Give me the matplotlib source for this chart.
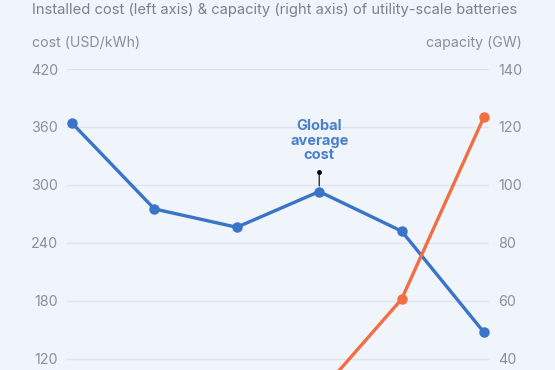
import matplotlib.pyplot as plt
from matplotlib.transforms import offset_copy

plt.rcParams['font.family'] = ['Inter', 'DejaVu Sans']

# data (x labels are cropped out of the reference, so plain index positions)
periods = [0, 1, 2, 3, 4, 5]
cost = [364, 275, 256, 293, 252, 147]          # USD/kWh, left axis
capacity = [3, 6, 12, 28, 60.5, 123.5]         # GW, right axis
left_ticks = [120, 180, 240, 300, 360, 420]
right_ticks = [40, 60, 80, 100, 120, 140]

bg = '#f0f4fb'
blue = '#3a74c8'
orange = '#f26e43'
grey = '#8b9099'

fig = plt.figure(figsize=(5.55, 3.7), dpi=100, facecolor=bg)
ax = fig.add_axes([67 / 555, -0.2819, 422 / 555, 1.0954])
ax.set_facecolor(bg)
ax2 = ax.twinx()

ax.set_xlim(-0.06, 5.06)
ax.set_ylim(0, 420)
ax2.set_ylim(0, 140)

for t in left_ticks:
    ax.axhline(t, color='#dfe5ef', lw=1, zorder=0)

ax.plot(periods, cost, color=blue, lw=2.4, marker='o', ms=6.5, zorder=3,
        clip_on=False)
ax2.plot(periods, capacity, color=orange, lw=2.4, marker='o', ms=6.5,
         zorder=3, clip_on=False)

ax.set_yticks(left_ticks)
ax2.set_yticks(right_ticks)
ax.set_xticks([])
for a in (ax, ax2):
    for s in a.spines.values():
        s.set_visible(False)
    a.tick_params(length=0, labelsize=10.3, labelcolor=grey, pad=6.5)

# annotation for the global average cost point
i = 3
ax.annotate('', xy=(periods[i], cost[i]), xytext=(0, 14),
            textcoords='offset points',
            arrowprops=dict(arrowstyle='-', color='black', lw=0.8,
                            shrinkA=0, shrinkB=4))
dot_tr = offset_copy(ax.transData, fig=fig, x=0, y=14, units='points')
ax.plot(periods[i], cost[i], 'o', color='black', ms=2.5, transform=dot_tr,
        zorder=4)
ax.annotate('Global\naverage\ncost', xy=(periods[i], cost[i]), xytext=(0, 21),
            textcoords='offset points', ha='center', va='bottom',
            fontsize=10.5, fontweight='bold', color='#4a7fcb', linespacing=1.05)

fig.text(32 / 555, 1 - 10 / 370, 'Installed cost (left axis) & capacity (right axis) of utility-scale batteries',
         fontsize=10.65, color='#7d828b', va='center', ha='left')
fig.text(32 / 555, 1 - 43 / 370, 'cost (USD/kWh)', fontsize=10.2, color=grey,
         va='center', ha='left')
fig.text(522 / 555, 1 - 43 / 370, 'capacity (GW)', fontsize=10.2, color=grey,
         va='center', ha='right')

fig.savefig('out.png', dpi=100, facecolor=bg)
